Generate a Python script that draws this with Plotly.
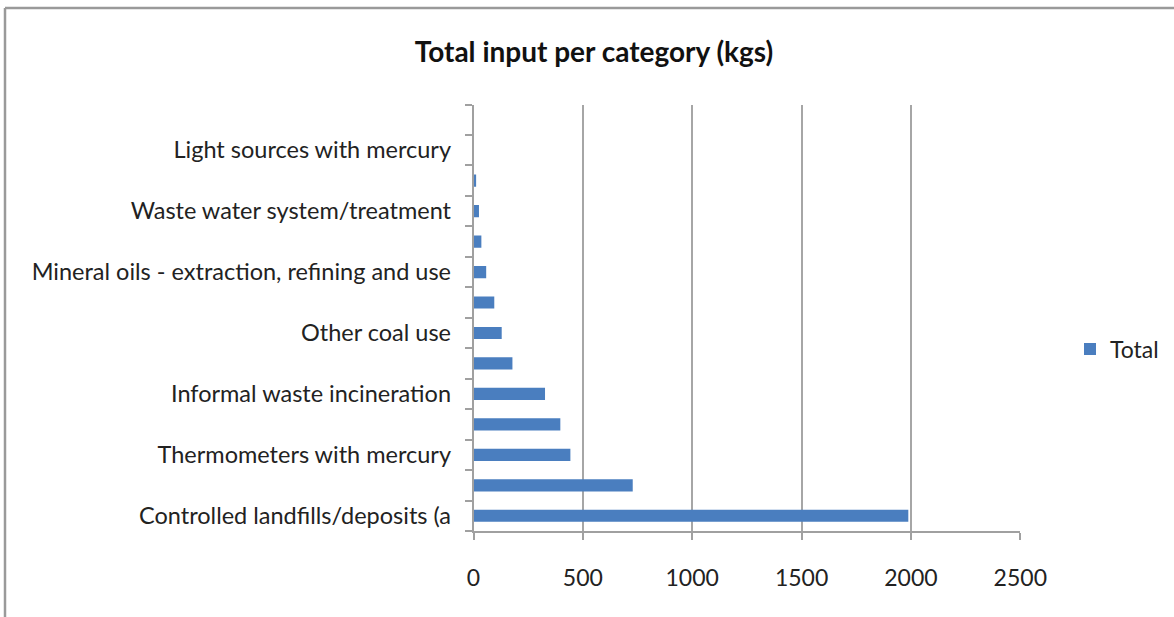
import plotly.graph_objects as go

# Data (bottom to top, as drawn)
categories = [
    "Controlled landfills/deposits (a",
    "",
    "Thermometers with mercury",
    "",
    "Informal waste incineration",
    "",
    "Other coal use",
    "",
    "Mineral oils - extraction, refining and use",
    "",
    "Waste water system/treatment",
    "",
    "Light sources with mercury",
    "",
]
values = [1988, 728, 443, 397, 327, 178, 129, 95, 58, 36, 25, 12, 0, 0]
x_ticks = [0, 500, 1000, 1500, 2000, 2500]
series_name = "Total"
title_text = "Total input per category (kgs)"

W, H = 1174, 617
FONT = "Lato"
positions = list(range(len(categories)))

fig = go.Figure()
fig.add_trace(go.Bar(
    x=values, y=positions, orientation="h", name=series_name,
    marker=dict(color="#4a7ebf", line=dict(width=0)), width=0.4,
    showlegend=True,
))

x0, x1 = 473.5, 1020.3
ytop, ybot = 104.5, 531.0

fig.update_layout(
    width=W, height=H,
    margin=dict(l=0, r=0, t=0, b=0),
    paper_bgcolor="white", plot_bgcolor="white",
    font=dict(family=FONT, size=23, color="#222"),
    title=dict(text="<b>" + title_text + "</b>", x=594 / W, y=1 - 52 / H,
               xanchor="center", yanchor="middle",
               font=dict(family=FONT, size=28, color="#111")),
    xaxis=dict(
        domain=[x0 / W, x1 / W], range=[0, 2500], tickvals=x_ticks,
        ticktext=[str(v) for v in x_ticks],
        showgrid=True, gridcolor="#a6a6a6", gridwidth=1.5,
        showline=True, linecolor="#a0a0a0", linewidth=1.5,
        ticks="outside", ticklen=7, tickcolor="#a0a0a0", tickwidth=1.5,
        ticklabelstandoff=19, zeroline=False, automargin=False,
        tickfont=dict(family=FONT, size=23, color="#222"),
    ),
    yaxis=dict(
        domain=[1 - ybot / H, 1 - ytop / H], range=[-0.5, len(categories) - 0.5],
        tickvals=positions, ticktext=categories, ticks="",
        showgrid=False, showline=True, linecolor="#a0a0a0", linewidth=1.5,
        zeroline=False, automargin=False, ticklabelstandoff=16,
        tickfont=dict(family=FONT, size=23.5, color="#222"),
        minor=dict(tickmode="linear", tick0=-0.5, dtick=1, ticks="outside",
                   ticklen=7, tickcolor="#a0a0a0", tickwidth=1.5, showgrid=False),
    ),
    legend=dict(x=1070 / W, y=1 - 349 / H, xanchor="left", yanchor="middle",
                font=dict(family=FONT, size=23, color="#222"),
                bgcolor="rgba(0,0,0,0)", itemwidth=30),
    shapes=[
        dict(type="line", xref="paper", yref="paper", x0=5 / W, x1=1, y0=1 - 8 / H, y1=1 - 8 / H,
             line=dict(color="#9a9a9a", width=2.5)),
        dict(type="line", xref="paper", yref="paper", x0=5 / W, x1=5 / W, y0=0, y1=1 - 8 / H,
             line=dict(color="#9a9a9a", width=2.5)),
    ],
)

fig.write_html("out.html", config={"displayModeBar": False},
               post_script="document.body.style.margin='0';document.body.style.overflow='hidden';")
